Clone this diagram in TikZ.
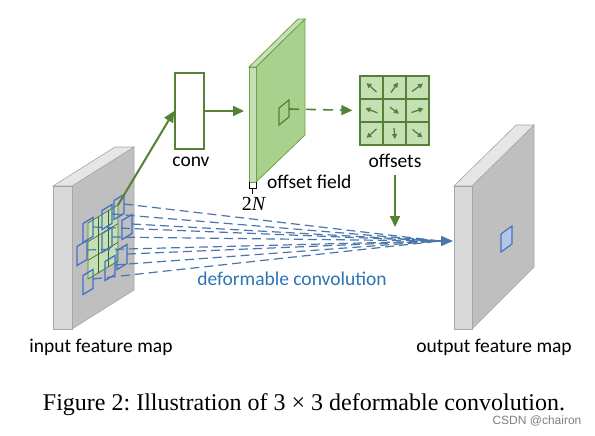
\documentclass[tikz,border=0pt]{standalone}
\usepackage{fontspec}
\setmainfont{Carlito}
\newfontfamily\seriffont{Liberation Serif}
\newfontfamily\wmfont{Liberation Sans}
\usepackage{tikz}
\usetikzlibrary{arrows.meta}
\frenchspacing
\definecolor{darkgreen}{HTML}{548235}
\definecolor{fieldline}{HTML}{6FA04A}
\definecolor{midgreen}{HTML}{A9D18E}
\definecolor{palegreen}{HTML}{C5E0B4}
\definecolor{mapfront}{HTML}{D9D9D9}
\definecolor{mapside}{HTML}{BFBFBF}
\definecolor{maptop}{HTML}{E6E6E6}
\definecolor{mapline}{HTML}{A6A6A6}
\definecolor{sampleblue}{HTML}{4472C4}
\definecolor{dashblue}{HTML}{4A76AC}
\definecolor{textblue}{HTML}{2E75B6}
\definecolor{outblue}{HTML}{B4C7E7}
\tikzstyle{maptext} = [font=\fontsize{19.5}{22}\selectfont, inner sep=0pt]
\tikzstyle{mapface} = [draw=mapline, line width=0.6pt]
\tikzstyle{greenarrow} = [draw=darkgreen, line width=2pt, -{Triangle[length=11pt,width=10pt]}]
\tikzstyle{offarrow} = [draw=darkgreen, line width=1.3pt, -{Triangle[length=5pt,width=5pt]}]
\tikzstyle{bluedash} = [draw=dashblue, line width=1.2pt, dash pattern=on 9pt off 5pt]
\tikzstyle{samplebox} = [draw=sampleblue, line width=1.3pt]

\begin{document}
\begin{tikzpicture}[x=1pt, y=-1pt]
\fill[white] (0,0) rectangle (595,436);
\useasboundingbox (0,0) rectangle (595,436);

% input feature map
\filldraw[mapface, fill=mapside] (72,186) -- (134,147) -- (134,290) -- (72,329) -- cycle;
\filldraw[mapface, fill=maptop] (53,186) -- (115,147) -- (134,147) -- (72,186) -- cycle;
\filldraw[mapface, fill=mapfront] (53,186) rectangle (72,329);
\filldraw[draw=darkgreen, fill=palegreen, line width=0.8pt] (88,223) -- (118,205) -- (118,261) -- (88,279) -- cycle;
\foreach \i in {1,2} {
    \draw[darkgreen!70!black, line width=0.6pt] (88+10*\i,223-6*\i) -- ++(0,56);
    \draw[darkgreen!70!black, line width=0.6pt] (88,223+18.67*\i) -- ++(30,-18);
}
\coordinate (gridcorner) at (118,205);

% sampling locations
\foreach \n/\x/\y in {1/119/207, 2/107/217, 3/88/230, 4/127/227, 5/107/240, 6/82/253, 7/122/257, 8/110/268, 9/88/282} {
    \draw[samplebox] (\x,\y) ++(-5,-6.5) -- ++(10,-6) -- ++(0,19) -- ++(-10,6) -- cycle;
    \coordinate (s\n) at (\x+5,\y-3);
}

% output feature map
\filldraw[mapface, fill=mapside] (472,186) -- (534,125) -- (534,267) -- (472,329) -- cycle;
\filldraw[mapface, fill=maptop] (454,186) -- (516,125) -- (534,125) -- (472,186) -- cycle;
\filldraw[mapface, fill=mapfront] (454,186) rectangle (472,329);
\filldraw[draw=sampleblue, fill=outblue, line width=1.2pt] (501,234) -- (512,226) -- (512,244) -- (501,252) -- cycle;

\coordinate (hub) at (440,241);
\coordinate (outleft) at (453,241);
\foreach \n in {1,...,9} {
    \draw[bluedash] (s\n) -- (hub);
}
\draw[draw=dashblue, line width=1.4pt, -{Triangle[length=12pt,width=10pt]}] (hub) -- (outleft);

% conv
\node[draw=darkgreen, fill=white, line width=1.5pt, minimum width=29pt, minimum height=76pt, inner sep=0pt] (conv) at (189.5,111) {};
\node[maptext] (convtext) at (191,162) {conv};
\draw[greenarrow] (gridcorner) -- (conv.west);

% offset field
\filldraw[draw=fieldline, fill=midgreen, line width=0.8pt] (256,67) -- (305,19) -- (305,135) -- (256,182) -- cycle;
\filldraw[draw=fieldline, fill=palegreen, line width=0.8pt] (249,67) -- (298,19) -- (305,19) -- (256,67) -- cycle;
\filldraw[draw=fieldline, fill=palegreen, line width=0.8pt] (249,67) rectangle (256,182);
\draw[darkgreen, line width=1.2pt] (279,108) -- (289,100) -- (289,117) -- (279,125) -- cycle;
\coordinate (fieldsq) at (289,109);
\coordinate (fieldin) at (244,111);
\draw[greenarrow] (conv.east) -- (fieldin);
\node[maptext, anchor=west] (fieldtext) at (267,182) {offset field};
\draw[black, line width=0.8pt] (249,182) -- (249,188) -- (256,188) -- (256,182);
\draw[black, line width=0.8pt] (252.5,188) -- (252.5,194);
\node[font=\seriffont\fontsize{20}{22}\selectfont, inner sep=0pt] (twon) at (254,204) {2\textit{N}};

% offsets
\node[draw=darkgreen, fill=palegreen, line width=1.2pt, minimum size=69pt, inner sep=0pt] (offsets) at (394.5,110.5) {};
\foreach \i in {1,2} {
    \draw[darkgreen, line width=1.2pt] (360+23*\i,76) -- ++(0,69);
    \draw[darkgreen, line width=1.2pt] (360,76+23*\i) -- ++(69,0);
}
\foreach \c/\r/\dx/\dy in {0/0/-5/-4.5, 1/0/3.5/-5, 2/0/5.5/-4, 0/1/-6/-2.4, 1/1/4.5/3.2, 2/1/6/-2, 0/2/-5/4.5, 1/2/0.5/5.5, 2/2/5/4} {
    \draw[offarrow] (371.5+23*\c-\dx,87.5+23*\r-\dy) -- ++(2*\dx,2*\dy);
}
\draw[greenarrow, line width=1.6pt, dash pattern=on 10pt off 7pt, shorten >=7pt] (fieldsq) -- (offsets.west);
\node[maptext] (offsetstext) at (395,161) {offsets};
\coordinate (offdown) at (395,175);
\coordinate (outtop) at (395,227);
\draw[greenarrow] (offdown) -- (outtop);

% labels
\node[maptext] (intext) at (101,347) {input feature map};
\node[maptext] (outtext) at (494,347) {output feature map};
\node[maptext, text=textblue] (deftext) at (292,279) {deformable convolution};
\node[font=\seriffont\fontsize{24}{28}\selectfont, inner sep=0pt] (caption) at (304,405) {Figure 2: Illustration of 3 × 3 deformable convolution.};
\node[font=\wmfont\fontsize{12}{14}\selectfont, text=gray, inner sep=0pt] (wm) at (537,421) {CSDN @chairon};
\end{tikzpicture}
\end{document}
